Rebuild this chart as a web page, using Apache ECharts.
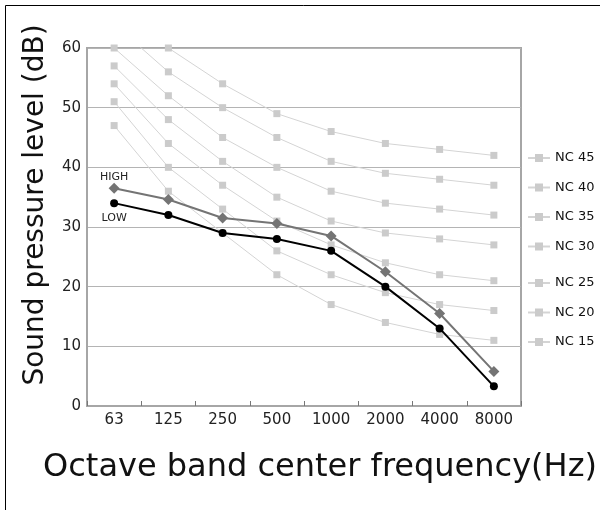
<!DOCTYPE html>
<html>
<head>
<meta charset="utf-8">
<script src="https://cdn.jsdelivr.net/npm/echarts@6/dist/echarts.min.js"></script>
<style>
    html, body { margin: 0; padding: 0; background: #fff; }
    #chart { width: 600px; height: 510px; }
</style>
</head>
<body>
<div id="chart"></div>
<script>
const categories = ['63', '125', '250', '500', '1000', '2000', '4000', '8000'];
const yTicks = [0, 10, 20, 30, 40, 50, 60];

// NC curves
const nc15 = [47, 36, 29, 22, 17, 14, 12, 11];
const nc20 = [51, 40, 33, 26, 22, 19, 17, 16];
const nc25 = [54, 44, 37, 31, 27, 24, 22, 21];
const nc30 = [57, 48, 41, 35, 31, 29, 28, 27];
const nc35 = [60, 52, 45, 40, 36, 34, 33, 32];
const nc40 = [64, 56, 50, 45, 41, 39, 38, 37];
const nc45 = [67, 60, 54, 49, 46, 44, 43, 42];

// measured
const highVals = [36.5, 34.6, 31.5, 30.6, 28.5, 22.5, 15.5, 5.8];
const lowVals = [34, 32, 29, 28, 26, 20, 13, 3.3];

const ncCurves = [
    ['NC 45', nc45],
    ['NC 40', nc40],
    ['NC 35', nc35],
    ['NC 30', nc30],
    ['NC 25', nc25],
    ['NC 20', nc20],
    ['NC 15', nc15],
];

const font = 'DejaVu Sans, Verdana, sans-serif';

const ncSeries = ncCurves.map(([name, vals]) => ({
    name: name,
    type: 'line',
    data: vals,
    clip: true,
    symbol: 'rect',
    symbolSize: 7,
    lineStyle: { color: '#d4d4d4', width: 1 },
    itemStyle: { color: '#cbcbcb' },
    emphasis: { disabled: true },
    z: 2,
}));

const legendBase = {
    orient: 'vertical',
    left: 522,
    itemWidth: 22,
    itemHeight: 10,
    itemGap: 15.5,
    textStyle: { fontFamily: font, fontSize: 13, color: '#111', lineHeight: 14 },
    selectedMode: false,
};

const option = {
    animation: false,
    grid: {
        left: 87,
        right: 79,
        top: 48,
        bottom: 104,
        outerBoundsMode: 'none',
        containLabel: false,
        show: true,
        borderColor: '#a6a6a6',
        borderWidth: 2,
    },
    legend: [
        Object.assign({}, legendBase, { top: 146, data: ['NC 45', 'NC 40', 'NC 35', 'NC 30'] }),
        Object.assign({}, legendBase, { top: 271, data: ['NC 25', 'NC 20', 'NC 15'] }),
    ],
    graphic: [
        {
            type: 'rect',
            shape: { x: 5.5, y: 5.5, width: 600, height: 510 },
            style: { fill: 'none', stroke: '#000', lineWidth: 1 },
            silent: true,
        },
    ],
    xAxis: {
        type: 'category',
        data: categories,
        boundaryGap: true,
        name: 'Octave band center frequency(Hz)',
        nameLocation: 'middle',
        nameGap: 46,
        nameTextStyle: { fontFamily: font, fontSize: 32, color: '#111', padding: [0, 0, 0, 32] },
        axisLine: { lineStyle: { color: '#a6a6a6', width: 2 } },
        axisTick: { show: true, inside: true, length: 5, interval: 0, lineStyle: { color: '#777' } },
        axisLabel: { fontFamily: font, fontSize: 15, color: '#222', margin: 7, interval: 0 },
        splitLine: { show: false },
    },
    yAxis: {
        type: 'value',
        min: yTicks[0],
        max: yTicks[yTicks.length - 1],
        interval: 10,
        name: 'Sound pressure level (dB)',
        nameLocation: 'middle',
        nameGap: 37,
        nameTextStyle: { fontFamily: font, fontSize: 28, color: '#111', padding: [0, 0, 0, 44] },
        axisLine: { show: true, lineStyle: { color: '#a6a6a6', width: 2 } },
        axisTick: { show: false },
        axisLabel: { fontFamily: font, fontSize: 15, color: '#222', margin: 6 },
        splitLine: { show: true, lineStyle: { color: '#b4b4b4', width: 1 } },
    },
    series: ncSeries.concat([
        {
            name: 'HIGH',
            type: 'line',
            data: highVals.map((v, i) => i === 0
                ? { value: v, label: { show: true, position: 'top', distance: 0, formatter: 'HIGH' } }
                : v),
            symbol: 'diamond',
            symbolSize: 11,
            lineStyle: { color: '#747474', width: 2 },
            itemStyle: { color: '#747474' },
            label: { fontFamily: font, fontSize: 11, color: '#222' },
            emphasis: { disabled: true },
            z: 4,
        },
        {
            name: 'LOW',
            type: 'line',
            data: lowVals.map((v, i) => i === 0
                ? { value: v, label: { show: true, position: 'bottom', distance: 6, formatter: 'LOW' } }
                : v),
            symbol: 'circle',
            symbolSize: 8,
            lineStyle: { color: '#000', width: 2 },
            itemStyle: { color: '#000' },
            label: { fontFamily: font, fontSize: 11, color: '#222' },
            emphasis: { disabled: true },
            z: 5,
        },
    ]),
};

const myChart = echarts.init(document.getElementById('chart'));
myChart.setOption(option);
</script>
</body>
</html>
